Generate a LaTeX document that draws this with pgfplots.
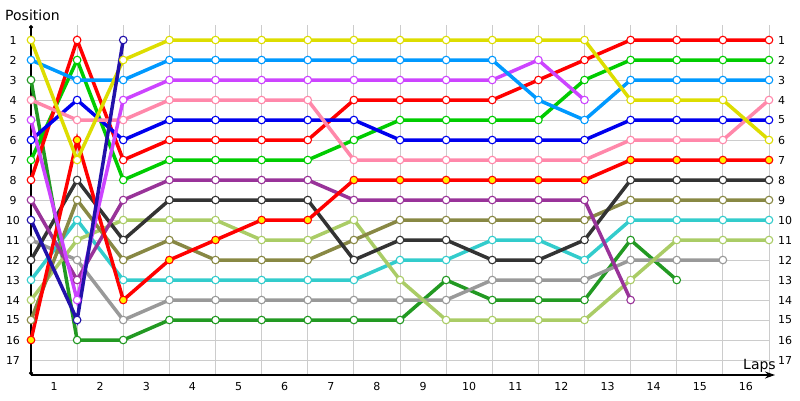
\documentclass[border=0pt]{standalone}
\usepackage{fontspec}
\setmainfont{DejaVu Sans}
\usepackage{pgfplots}
\pgfplotsset{compat=1.18}
\usepackage{pgfplotstable}
\usetikzlibrary{arrows.meta}

\definecolor{cyel}{HTML}{DDDD00}
\definecolor{clbl}{HTML}{0099FF}
\definecolor{cmag}{HTML}{CC44FF}
\definecolor{cpnk}{HTML}{FF88AA}
\definecolor{cblu}{HTML}{0000EE}
\definecolor{cred}{HTML}{FF0000}
\definecolor{cgrn}{HTML}{00CC00}
\definecolor{cpur}{HTML}{993399}
\definecolor{cblk}{HTML}{333333}
\definecolor{colv}{HTML}{888844}
\definecolor{clgr}{HTML}{AACC66}
\definecolor{ccyn}{HTML}{33CCCC}
\definecolor{cgry}{HTML}{999999}
\definecolor{cdgr}{HTML}{229922}
\definecolor{cnav}{HTML}{2211AA}
\definecolor{cgrid}{HTML}{CCCCCC}

% position of each car after each lap (lap 0 = start)
\pgfplotstableread{
lap yel lbl mag pnk blu red grn pur blk olv lgr ry  cyn gry dgr nav
0   1   2   5   4   6   8   7   9   12  15  14  16  13  11  3   10
1   7   3   14  5   4   1   2   13  8   9   11  6   10  12  16  15
2   2   3   4   5   6   7   8   9   11  12  10  14  13  15  16  1
3   1   2   3   4   5   6   7   8   9   11  10  12  13  14  15  nan
4   1   2   3   4   5   6   7   8   9   12  10  11  13  14  15  nan
5   1   2   3   4   5   6   7   8   9   12  11  10  13  14  15  nan
6   1   2   3   4   5   6   7   8   9   12  11  10  13  14  15  nan
7   1   2   3   7   5   4   6   9   12  11  10  8   13  14  15  nan
8   1   2   3   7   6   4   5   9   11  10  13  8   12  14  15  nan
9   1   2   3   7   6   4   5   9   11  10  15  8   12  14  13  nan
10  1   2   3   7   6   4   5   9   12  10  15  8   11  13  14  nan
11  1   4   2   7   6   3   5   9   12  10  15  8   11  13  14  nan
12  1   5   4   7   6   2   3   9   11  10  15  8   12  13  14  nan
13  4   3   nan 6   5   1   2   14  8   9   13  7   10  12  11  nan
14  4   3   nan 6   5   1   2   nan 8   9   11  7   10  12  13  nan
15  4   3   nan 6   5   1   2   nan 8   9   11  7   10  12  nan nan
16  6   3   nan 4   5   1   2   nan 8   9   11  7   10  nan nan nan
}\laps

\begin{document}
\begin{tikzpicture}
\begin{axis}[
  at={(0pt,0pt)}, anchor=south west,
  width=738pt, height=350pt, scale only axis,
  xmin=0, xmax=16, ymin=0.25, ymax=17.75, y dir=reverse,
  axis x line*=bottom, axis y line*=left,
  x axis line style={line width=1.2pt, -{Stealth[length=10pt,width=7pt]}, shorten >=-6pt},
  y axis line style={line width=1.2pt, {Circle[length=4pt]}-{Circle[length=4pt]}},
  xtick={0.5,1.5,...,15.5},
  xticklabels={1,2,3,4,5,6,7,8,9,10,11,12,13,14,15,16},
  minor xtick={0,1,...,16}, xminorgrids,
  ytick={1,2,...,17}, ymajorgrids,
  major tick length=0pt, minor tick length=0pt,
  grid style={cgrid, line width=1pt},
  minor grid style={cgrid, line width=1pt},
  /pgf/number format/assume math mode=true,
  tick label style={font=\fontsize{11}{13}\selectfont},
  yticklabel style={anchor=center, xshift=-18pt},
  xticklabel style={yshift=-4pt},
  unbounded coords=jump,
  clip=false,
  every axis plot/.style={line width=3.5pt, mark=*, mark size=3.8pt,
    mark options={solid, fill=white, line width=1.1pt}},
]
\addplot[cdgr] table[x=lap, y=dgr] {\laps};
\addplot[cgry] table[x=lap, y=gry] {\laps};
\addplot[ccyn] table[x=lap, y=cyn] {\laps};
\addplot[clgr] table[x=lap, y=lgr] {\laps};
\addplot[colv] table[x=lap, y=olv] {\laps};
\addplot[cblk] table[x=lap, y=blk] {\laps};
\addplot[cpur] table[x=lap, y=pur] {\laps};
\addplot[cred, mark options={solid, fill=yellow, line width=1.1pt}] table[x=lap, y=ry] {\laps};
\addplot[cgrn] table[x=lap, y=grn] {\laps};
\addplot[cred] table[x=lap, y=red] {\laps};
\addplot[cblu] table[x=lap, y=blu] {\laps};
\addplot[cpnk] table[x=lap, y=pnk] {\laps};
\addplot[cmag] table[x=lap, y=mag] {\laps};
\addplot[clbl] table[x=lap, y=lbl] {\laps};
\addplot[cyel] table[x=lap, y=yel] {\laps};
\addplot[cnav] table[x=lap, y=nav] {\laps};
\end{axis}
\begin{axis}[
  at={(0pt,0pt)}, anchor=south west,
  width=738pt, height=350pt, scale only axis,
  xmin=0, xmax=16, ymin=0.25, ymax=17.75, y dir=reverse,
  axis x line=none, axis y line*=right,
  y axis line style={draw=none},
  ytick={1,2,...,17}, major tick length=0pt,
  /pgf/number format/assume math mode=true,
  tick label style={font=\fontsize{11}{13}\selectfont},
  yticklabel style={anchor=west, inner sep=0pt, xshift=9pt},
]
\end{axis}
\node[anchor=west, inner sep=0pt, font=\fontsize{14}{16}\selectfont] at (-26pt,360pt) {Position};
\node[anchor=base west, inner sep=0pt, font=\fontsize{14}{16}\selectfont] at (712pt,6pt) {Laps};
\pgfresetboundingbox
\path[use as bounding box] (-31pt,-25pt) rectangle (769pt,375pt);
\end{tikzpicture}
\end{document}
